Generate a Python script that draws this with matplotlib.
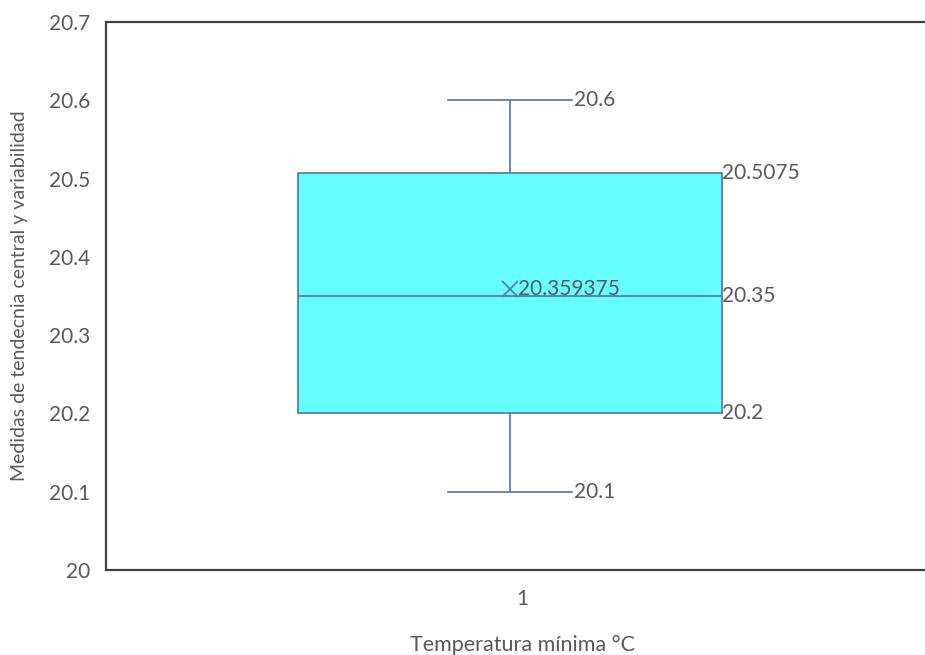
import matplotlib
matplotlib.use("Agg")
import matplotlib.pyplot as plt
import matplotlib.transforms as mtransforms

# Summary statistics for the minimum temperature series
category = "1"
whisker_low = 20.1
q1 = 20.2
median = 20.35
q3 = 20.5075
whisker_high = 20.6
mean = 20.359375

y_ticks = [20.0, 20.1, 20.2, 20.3, 20.4, 20.5, 20.6, 20.7]
y_tick_labels = ["20", "20.1", "20.2", "20.3", "20.4", "20.5", "20.6", "20.7"]

TEXT = "#595959"
EDGE = "#5A7DB0"
FILL = "#66FFFF"
SPINE = "#3F3F3F"
FONT = "Lato"

plt.rcParams["font.family"] = [FONT, "DejaVu Sans"]

W, H = 925, 655
fig = plt.figure(figsize=(W / 100, H / 100), dpi=100)
left, right, top, bottom = 106, 938, 22, 570
ax = fig.add_axes([left / W, 1 - bottom / H, (right - left) / W, (bottom - top) / H])

stats = [{
    "whislo": whisker_low, "q1": q1, "med": median, "q3": q3,
    "whishi": whisker_high, "mean": mean, "fliers": [], "label": category,
}]
box_w = 1.017
cap_w = 0.30
ax.bxp(
    stats, positions=[1], widths=box_w, capwidths=cap_w,
    showmeans=True, patch_artist=True, showfliers=False,
    boxprops=dict(facecolor=FILL, edgecolor=EDGE, linewidth=1.3),
    medianprops=dict(color=EDGE, linewidth=1.3),
    whiskerprops=dict(color=EDGE, linewidth=1.3),
    capprops=dict(color=EDGE, linewidth=1.3),
    meanprops=dict(marker="x", markeredgecolor=EDGE, markersize=11, markeredgewidth=1.3),
)

frac = (510 - left) / (right - left)
span = 2.0
ax.set_xlim(1 - frac * span, 1 + (1 - frac) * span)
ax.set_ylim(20.0, 20.7)
ax.set_yticks(y_ticks)
ax.set_yticklabels(y_tick_labels)
ax.set_xticks([1])
ax.set_xticklabels([category])

ax.tick_params(axis="both", length=0, colors=TEXT, labelsize=15)
ax.tick_params(axis="y", pad=11)
ax.tick_params(axis="x", pad=14)
for lab in ax.get_xticklabels():
    lab.set_transform(lab.get_transform() + mtransforms.ScaledTranslation(12 / 100, 0, fig.dpi_scale_trans))

for side in ["left", "bottom", "top", "right"]:
    ax.spines[side].set_color(SPINE)
    ax.spines[side].set_linewidth(1.6)

ax.set_ylabel("Medidas de tendecnia central y variabilidad", fontsize=14, color=TEXT)
ax.set_xlabel("Temperatura mínima °C", fontsize=15.5, color=TEXT, labelpad=18)
ax.yaxis.set_label_coords(-(106 - 28) / (right - left), 0.5)

# Value labels next to the statistics
lab_kw = dict(textcoords="offset points", va="center", ha="left", fontsize=15, color=TEXT)
ax.annotate(f"{whisker_high:g}", (1 + cap_w / 2, whisker_high), xytext=(1, 0), **lab_kw)
ax.annotate(f"{whisker_low:g}", (1 + cap_w / 2, whisker_low), xytext=(1, 0), **lab_kw)
ax.annotate(f"{q3:g}", (1 + box_w / 2, q3), xytext=(0.5, 0), **lab_kw)
ax.annotate(f"{median:g}", (1 + box_w / 2, median), xytext=(0.5, 0), **lab_kw)
ax.annotate(f"{q1:g}", (1 + box_w / 2, q1), xytext=(0.5, 0), **lab_kw)
ax.annotate(repr(mean), (1, mean), xytext=(6, 0), **lab_kw)

fig.savefig("out.png", dpi=100)
